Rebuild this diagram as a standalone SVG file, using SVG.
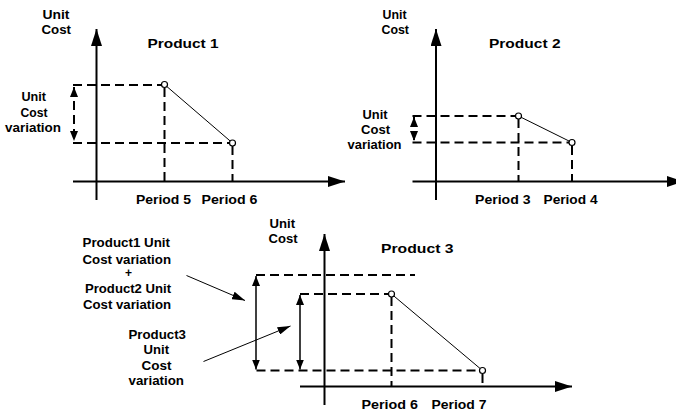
<svg xmlns="http://www.w3.org/2000/svg" width="676" height="412" viewBox="0 0 676 412">
  <style>
    .lbl { font-family: "Liberation Sans", Arial, sans-serif; font-size: 12px; font-weight: bold; fill: #000; }
    .axis { stroke: #000; stroke-width: 2; fill: none; }
    .dash { stroke: #000; stroke-width: 2; stroke-dasharray: 9 5; fill: none; }
    .trend { stroke: #000; stroke-width: 1; fill: none; }
    .pt { fill: #fff; stroke: #000; stroke-width: 1.2; }
    .span { stroke: #000; stroke-width: 1.5; fill: none; }
    .ptr { stroke: #000; stroke-width: 1; fill: none; }
  </style>
  <defs>
    <marker id="axisHead" markerUnits="userSpaceOnUse" markerWidth="17" markerHeight="11" refX="17" refY="5.5" orient="auto">
      <path d="M0,0 L17,5.5 L0,11 z" fill="#000"/>
    </marker>
    <marker id="spanHead" markerUnits="userSpaceOnUse" markerWidth="10" markerHeight="8" refX="10" refY="4" orient="auto-start-reverse">
      <path d="M0,0 L10,4 L0,8 z" fill="#000"/>
    </marker>
    <marker id="ptrHead" markerUnits="userSpaceOnUse" markerWidth="13" markerHeight="8" refX="13" refY="4" orient="auto">
      <path d="M0,0 L13,4 L0,8 z" fill="#000"/>
    </marker>
  </defs>

  <!-- Product 1 chart -->
  <g id="product1">
    <text class="lbl" x="42.5" y="18.5" textLength="27" lengthAdjust="spacingAndGlyphs">Unit</text>
    <text class="lbl" x="41.5" y="33.5" textLength="29.5" lengthAdjust="spacingAndGlyphs">Cost</text>
    <text class="lbl" x="147.5" y="47.5" textLength="71" lengthAdjust="spacingAndGlyphs">Product 1</text>
    <text class="lbl" x="21.5" y="101" textLength="24.5" lengthAdjust="spacingAndGlyphs">Unit</text>
    <text class="lbl" x="20.5" y="116.5" textLength="27" lengthAdjust="spacingAndGlyphs">Cost</text>
    <text class="lbl" x="5" y="132" textLength="56" lengthAdjust="spacingAndGlyphs">variation</text>
    <text class="lbl" x="136" y="203.5" textLength="55" lengthAdjust="spacingAndGlyphs">Period 5</text>
    <text class="lbl" x="201.5" y="203.5" textLength="56" lengthAdjust="spacingAndGlyphs">Period 6</text>
  </g>

  <!-- Product 2 chart -->
  <g id="product2">
    <text class="lbl" x="382.5" y="18.5" textLength="24" lengthAdjust="spacingAndGlyphs">Unit</text>
    <text class="lbl" x="381.5" y="33.5" textLength="27.5" lengthAdjust="spacingAndGlyphs">Cost</text>
    <text class="lbl" x="489" y="47.5" textLength="71.5" lengthAdjust="spacingAndGlyphs">Product 2</text>
    <text class="lbl" x="362.5" y="118.5" textLength="25" lengthAdjust="spacingAndGlyphs">Unit</text>
    <text class="lbl" x="361" y="133.5" textLength="29" lengthAdjust="spacingAndGlyphs">Cost</text>
    <text class="lbl" x="347.5" y="149" textLength="54" lengthAdjust="spacingAndGlyphs">variation</text>
    <text class="lbl" x="475" y="203.5" textLength="55.5" lengthAdjust="spacingAndGlyphs">Period 3</text>
    <text class="lbl" x="543.5" y="203.5" textLength="54" lengthAdjust="spacingAndGlyphs">Period 4</text>
  </g>

  <!-- Product 3 chart -->
  <g id="product3">
    <text class="lbl" x="269.5" y="227.5" textLength="25.5" lengthAdjust="spacingAndGlyphs">Unit</text>
    <text class="lbl" x="268.5" y="243" textLength="29" lengthAdjust="spacingAndGlyphs">Cost</text>
    <text class="lbl" x="381" y="253" textLength="72.5" lengthAdjust="spacingAndGlyphs">Product 3</text>
    <text class="lbl" x="361.5" y="409" textLength="56.5" lengthAdjust="spacingAndGlyphs">Period 6</text>
    <text class="lbl" x="431.5" y="409" textLength="55" lengthAdjust="spacingAndGlyphs">Period 7</text>
  </g>

  <!-- Annotation labels for the combined variation -->
  <g id="label-combined">
    <text class="lbl" x="82.5" y="247" textLength="87.5" lengthAdjust="spacingAndGlyphs">Product1 Unit</text>
    <text class="lbl" x="82.5" y="263.5" textLength="88.5" lengthAdjust="spacingAndGlyphs">Cost variation</text>
    <text class="lbl" x="128.5" y="277" text-anchor="middle">+</text>
    <text class="lbl" x="85" y="293" textLength="86" lengthAdjust="spacingAndGlyphs">Product2 Unit</text>
    <text class="lbl" x="83" y="308.5" textLength="88" lengthAdjust="spacingAndGlyphs">Cost variation</text>
  </g>
  <g id="label-product3">
    <text class="lbl" x="128.5" y="338.5" textLength="57.5" lengthAdjust="spacingAndGlyphs">Product3</text>
    <text class="lbl" x="143.5" y="354" textLength="25.5" lengthAdjust="spacingAndGlyphs">Unit</text>
    <text class="lbl" x="141.5" y="369.5" textLength="30" lengthAdjust="spacingAndGlyphs">Cost</text>
    <text class="lbl" x="128.5" y="385" textLength="55.5" lengthAdjust="spacingAndGlyphs">variation</text>
  </g>

  <g id="connectors">
    <!-- Product 1 -->
    <line class="axis" x1="96.5" y1="200" x2="96.5" y2="29" marker-end="url(#axisHead)"/>
    <line class="axis" x1="73" y1="181.5" x2="345" y2="181.5" marker-end="url(#axisHead)"/>
    <line class="dash" x1="73" y1="85" x2="162" y2="85"/>
    <line class="dash" x1="73" y1="143" x2="230" y2="143"/>
    <line class="dash" x1="164.5" y1="88" x2="164.5" y2="181"/>
    <line class="dash" x1="232.5" y1="146" x2="232.5" y2="181"/>
    <line class="trend" x1="164.5" y1="84.5" x2="232.5" y2="143"/>
    <line class="dash" x1="74" y1="87" x2="74" y2="141" stroke-dasharray="6 4" marker-start="url(#spanHead)" marker-end="url(#spanHead)"/>
    <circle class="pt" cx="164.5" cy="84.5" r="3"/>
    <circle class="pt" cx="232.5" cy="143" r="3"/>

    <!-- Product 2 -->
    <line class="axis" x1="436" y1="200" x2="436" y2="29" marker-end="url(#axisHead)"/>
    <line class="axis" x1="412.5" y1="181.5" x2="684" y2="181.5" marker-end="url(#axisHead)"/>
    <line class="dash" x1="412.5" y1="116" x2="516" y2="116"/>
    <line class="dash" x1="412.5" y1="142.5" x2="569" y2="142.5"/>
    <line class="dash" x1="518.5" y1="119" x2="518.5" y2="181"/>
    <line class="dash" x1="572" y1="146" x2="572" y2="181"/>
    <line class="trend" x1="518.5" y1="116" x2="572" y2="142.5"/>
    <line class="dash" x1="414" y1="117" x2="414" y2="141" stroke-dasharray="5 3" marker-start="url(#spanHead)" marker-end="url(#spanHead)"/>
    <circle class="pt" cx="518.5" cy="116" r="3"/>
    <circle class="pt" cx="572" cy="142.5" r="3"/>

    <!-- Product 3 -->
    <line class="axis" x1="324.5" y1="405" x2="324.5" y2="234" marker-end="url(#axisHead)"/>
    <line class="axis" x1="300" y1="386.5" x2="572" y2="386.5" marker-end="url(#axisHead)"/>
    <line class="dash" x1="256" y1="275" x2="415" y2="275"/>
    <line class="dash" x1="300" y1="294" x2="389" y2="294"/>
    <line class="dash" x1="256.5" y1="370.5" x2="480" y2="370.5"/>
    <line class="dash" x1="391.5" y1="297" x2="391.5" y2="386"/>
    <line class="dash" x1="482.5" y1="374" x2="482.5" y2="386"/>
    <line class="trend" x1="391.5" y1="294" x2="482.5" y2="370.5"/>
    <circle class="pt" cx="391.5" cy="294" r="3"/>
    <circle class="pt" cx="482.5" cy="370.5" r="3"/>
    <line class="span" x1="256" y1="276" x2="256" y2="369.5" marker-start="url(#spanHead)" marker-end="url(#spanHead)"/>
    <line class="span" x1="300" y1="295" x2="300" y2="369.5" marker-start="url(#spanHead)" marker-end="url(#spanHead)"/>

    <!-- Pointers from the labels to the spans -->
    <line class="ptr" x1="186.5" y1="275.5" x2="245" y2="300.5" marker-end="url(#ptrHead)"/>
    <line class="ptr" x1="203.5" y1="361.5" x2="290.5" y2="326" marker-end="url(#ptrHead)"/>
  </g>
</svg>
